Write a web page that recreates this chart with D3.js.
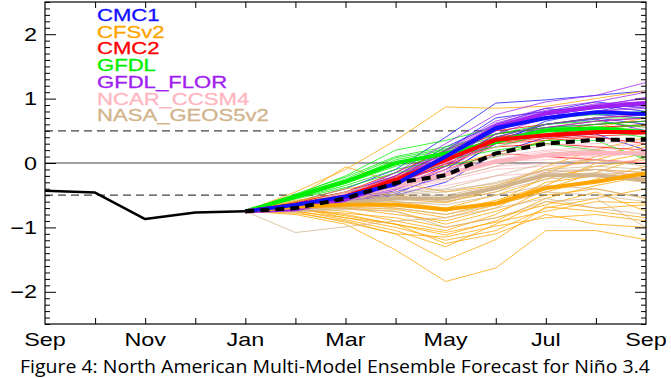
<!DOCTYPE html>
<html>
<head>
<meta charset="utf-8">
<script src="https://cdn.jsdelivr.net/npm/d3@7"></script>
<style>
  body { margin: 0; background: #fff; }
  text { font-family: "Liberation Sans", Arial, sans-serif; }
  text.caption { font-family: "Open Sans", sans-serif; }
</style>
</head>
<body>
<svg id="plume" width="671" height="378"></svg>
<script>
const months = ["Sep", "Oct", "Nov", "Dec", "Jan", "Feb", "Mar", "Apr", "May", "Jun", "Jul", "Aug", "Sep"];
const tickLabels = ["Sep", "Nov", "Jan", "Mar", "May", "Jul", "Sep"];
const yTicks = [-2, -1, 0, 1, 2];
const observed = [-0.43, -0.46, -0.87, -0.77, -0.75];
const startIndex = 4; // Jan

const modelNames = ["CMC1", "CFSv2", "CMC2", "GFDL", "GFDL_FLOR", "NCAR_CCSM4", "NASA_GEOS5v2"];
const modelColors = ["#1010ff", "#ffa500", "#ff0000", "#00ee00", "#a020f0", "#ffb6c1", "#d2b48c"];

// Feb..Sep values for each member
const cmc1Members = [
  [-0.60, -0.40, -0.10, 0.40, 0.93, 0.98, 1.05, 1.12],
  [-0.68, -0.60, -0.45, -0.20, 0.35, 0.60, 0.70, 0.60],
  [-0.66, -0.55, -0.35, 0.05, 0.50, 0.75, 0.85, 0.90],
  [-0.70, -0.62, -0.50, -0.30, 0.15, 0.40, 0.45, 0.20],
  [-0.64, -0.50, -0.25, 0.20, 0.70, 0.80, 0.95, 0.85],
  [-0.67, -0.58, -0.40, -0.05, 0.45, 0.55, 0.60, 0.65],
  [-0.62, -0.45, -0.20, 0.25, 0.60, 0.85, 0.75, 0.70],
  [-0.69, -0.60, -0.48, -0.15, 0.30, 0.65, 0.80, 0.95],
  [-0.65, -0.52, -0.30, 0.10, 0.55, 0.70, 0.90, 0.80],
  [-0.70, -0.65, -0.42, -0.10, 0.40, 0.60, 0.68, 0.50]
];
const cfsMembers = [
  [-0.45, -0.10, 0.35, 0.87, 0.85, 0.88, 1.00, 1.12],
  [-0.55, -0.06, -0.30, -0.45, -0.35, -0.10, 0.05, 0.25],
  [-0.80, -0.95, -1.35, -1.84, -1.63, -1.05, -1.05, -1.19],
  [-0.78, -0.90, -1.10, -1.51, -1.19, -0.68, -0.75, -0.85],
  [-0.70, -0.85, -1.00, -1.20, -1.05, -0.70, -0.55, -0.40],
  [-0.72, -0.80, -0.95, -1.12, -0.90, -0.55, -0.35, -0.20],
  [-0.68, -0.75, -0.90, -1.05, -0.80, -0.40, -0.15, 0.10],
  [-0.65, -0.70, -0.75, -0.95, -0.75, -0.50, -0.40, -0.55],
  [-0.75, -0.85, -0.95, -1.25, -1.10, -0.80, -0.95, -1.00],
  [-0.62, -0.55, -0.60, -0.70, -0.50, -0.25, -0.05, 0.05],
  [-0.70, -0.70, -0.80, -0.90, -0.70, -0.30, -0.20, -0.30],
  [-0.60, -0.45, -0.50, -0.60, -0.45, -0.15, 0.10, 0.30],
  [-0.74, -0.88, -1.05, -1.30, -0.95, -0.60, -0.70, -0.65],
  [-0.66, -0.68, -0.72, -0.85, -0.65, -0.45, -0.25, -0.05],
  [-0.72, -0.78, -0.85, -1.00, -0.85, -0.65, -0.45, -0.75],
  [-0.58, -0.50, -0.55, -0.62, -0.40, -0.05, 0.20, 0.40],
  [-0.76, -0.92, -1.10, -1.15, -0.98, -0.85, -0.80, -0.90],
  [-0.64, -0.62, -0.70, -0.80, -0.62, -0.20, -0.10, -0.15],
  [-0.70, -0.82, -0.95, -1.08, -0.92, -0.75, -0.60, -0.62],
  [-0.62, -0.58, -0.65, -0.75, -0.58, -0.35, 0.00, 0.15],
  [-0.60, -0.40, -0.30, -0.05, 0.15, 0.35, 0.55, 0.70]
];
const cmc2Members = [
  [-0.62, -0.45, -0.15, 0.20, 0.50, 0.60, 0.70, 0.75],
  [-0.68, -0.58, -0.35, -0.10, 0.15, 0.10, 0.05, 0.00],
  [-0.64, -0.50, -0.25, 0.05, 0.40, 0.50, 0.55, 0.60],
  [-0.66, -0.55, -0.30, -0.05, 0.30, 0.35, 0.40, 0.30],
  [-0.63, -0.48, -0.20, 0.15, 0.45, 0.55, 0.65, 0.70],
  [-0.67, -0.56, -0.32, 0.00, 0.25, 0.30, 0.25, 0.20],
  [-0.65, -0.50, -0.22, 0.10, 0.40, 0.45, 0.55, 0.58],
  [-0.66, -0.54, -0.28, 0.02, 0.35, 0.50, 0.60, 0.65],
  [-0.64, -0.52, -0.26, 0.08, 0.38, 0.40, 0.45, 0.50],
  [-0.66, -0.55, -0.30, -0.02, 0.32, 0.38, 0.42, 0.45]
];
const gfdlMembers = [
  [-0.50, -0.20, 0.20, 0.35, 0.55, 0.70, 0.75, 0.80],
  [-0.55, -0.35, -0.10, 0.05, 0.20, 0.30, 0.20, 0.10],
  [-0.52, -0.28, 0.05, 0.20, 0.40, 0.60, 0.65, 0.55],
  [-0.54, -0.32, -0.05, 0.10, 0.25, 0.45, 0.50, 0.40],
  [-0.48, -0.22, 0.10, 0.25, 0.45, 0.55, 0.60, 0.65],
  [-0.53, -0.30, -0.02, 0.12, 0.30, 0.50, 0.55, 0.45],
  [-0.56, -0.38, -0.15, -0.05, 0.10, 0.35, 0.35, 0.05],
  [-0.50, -0.25, 0.08, 0.22, 0.45, 0.60, 0.70, 0.70],
  [-0.52, -0.27, 0.00, 0.15, 0.35, 0.55, 0.55, 0.50],
  [-0.54, -0.31, -0.03, 0.18, 0.32, 0.48, 0.52, 0.60]
];
const florMembers = [
  [-0.70, -0.50, -0.15, 0.30, 0.75, 0.95, 1.05, 1.25],
  [-0.74, -0.62, -0.40, -0.05, 0.40, 0.60, 0.70, 0.75],
  [-0.71, -0.55, -0.25, 0.15, 0.60, 0.80, 0.90, 1.00],
  [-0.73, -0.60, -0.35, 0.00, 0.45, 0.70, 0.80, 0.85],
  [-0.70, -0.52, -0.20, 0.20, 0.65, 0.85, 0.95, 1.10],
  [-0.74, -0.63, -0.42, -0.10, 0.35, 0.55, 0.65, 0.70],
  [-0.72, -0.57, -0.28, 0.12, 0.58, 0.78, 0.92, 0.95],
  [-0.71, -0.54, -0.26, 0.18, 0.62, 0.82, 0.85, 0.90],
  [-0.73, -0.59, -0.32, 0.05, 0.50, 0.75, 0.88, 1.02],
  [-0.72, -0.56, -0.30, 0.08, 0.55, 0.72, 0.80, 0.88]
];
const ncarMembers = [
  [-0.64, -0.45, -0.25, 0.00, 0.25, 0.40, 0.50, 0.55],
  [-0.68, -0.55, -0.45, -0.35, -0.20, -0.15, -0.10, -0.20],
  [-0.65, -0.48, -0.32, -0.12, 0.10, 0.20, 0.25, 0.30],
  [-0.67, -0.52, -0.40, -0.25, -0.05, 0.00, 0.05, 0.00],
  [-0.66, -0.50, -0.35, -0.15, 0.05, 0.15, 0.20, 0.10],
  [-0.65, -0.49, -0.30, -0.10, 0.12, 0.28, 0.30, 0.35],
  [-0.68, -0.53, -0.42, -0.28, -0.10, -0.05, 0.00, 0.05],
  [-0.66, -0.51, -0.38, -0.20, 0.00, 0.10, 0.12, 0.15],
  [-0.67, -0.50, -0.36, -0.18, 0.03, 0.05, 0.10, 0.15],
  [-0.65, -0.48, -0.34, -0.16, 0.05, 0.18, 0.22, 0.20]
];
const nasaMembers = [
  [-1.08, -0.99, -0.90, -0.85, -0.70, -0.55, -0.70, -0.80],
  [-0.65, -0.45, -0.30, -0.25, -0.05, 0.15, 0.20, 0.10],
  [-0.72, -0.65, -0.60, -0.65, -0.50, -0.35, -0.40, -0.55],
  [-0.70, -0.58, -0.50, -0.45, -0.30, -0.10, -0.05, -0.10],
  [-0.75, -0.70, -0.70, -0.80, -0.65, -0.45, -0.50, -0.60],
  [-0.68, -0.55, -0.45, -0.40, -0.20, 0.00, 0.05, -0.05],
  [-0.74, -0.68, -0.62, -0.60, -0.45, -0.25, -0.20, -0.30],
  [-0.71, -0.60, -0.52, -0.50, -0.35, -0.15, -0.10, -0.15],
  [-0.76, -0.72, -0.75, -1.00, -0.85, -0.60, -0.55, -1.00],
  [-0.70, -0.62, -0.55, -0.55, -0.40, -0.20, -0.15, -0.20],
  [-0.69, -0.57, -0.48, -0.42, -0.32, -0.12, -0.10, -0.22]
];

// Feb..Sep ensemble means (thick lines)
const cmc1Mean = [-0.65, -0.52, -0.33, 0.10, 0.54, 0.70, 0.79, 0.76];
const cfsMean = [-0.68, -0.65, -0.65, -0.72, -0.63, -0.39, -0.29, -0.16];
const cmc2Mean = [-0.65, -0.52, -0.26, 0.05, 0.36, 0.43, 0.48, 0.48];
const gfdlMean = [-0.52, -0.29, 0.00, 0.15, 0.33, 0.51, 0.54, 0.48];
const florMean = [-0.72, -0.57, -0.30, 0.10, 0.56, 0.77, 0.87, 0.93];
const ncarMean = [-0.66, -0.50, -0.36, -0.18, 0.02, 0.12, 0.16, 0.15];
const nasaMean = [-0.72, -0.62, -0.55, -0.55, -0.39, -0.19, -0.19, -0.26];
const nmmeMean = [-0.70, -0.55, -0.31, -0.19, 0.15, 0.30, 0.36, 0.36];

const memberSets = [cmc1Members, cfsMembers, cmc2Members, gfdlMembers, florMembers, ncarMembers, nasaMembers];
const meanSets = [cmc1Mean, cfsMean, cmc2Mean, gfdlMean, florMean, ncarMean, nasaMean];

const models = modelNames.map((name, i) => ({
  name: name,
  color: modelColors[i],
  members: memberSets[i],
  mean: meanSets[i]
}));

//* Set chart area
const width = 671;
const height = 378;
const margin = { top: 2, right: 25, bottom: 54, left: 45 };
const innerWidth = width - margin.left - margin.right;
const innerHeight = height - margin.top - margin.bottom;
const stretch = 1.3; // the original lettering is drawn wide

const svg = d3.select("#plume");

const chart = svg.append("g")
  .attr("transform", `translate(${margin.left}, ${margin.top})`);

const x = d3.scaleLinear()
  .domain([0, months.length - 1])
  .range([0, innerWidth]);

const y = d3.scaleLinear()
  .domain([-2.5, 2.5])
  .range([innerHeight, 0]);

chart.append("clipPath")
  .attr("id", "plotArea")
  .append("rect")
  .attr("width", innerWidth)
  .attr("height", innerHeight);

//* Reference lines
chart.append("line")
  .attr("x1", 0).attr("x2", innerWidth)
  .attr("y1", y(0)).attr("y2", y(0))
  .attr("stroke", "#444")
  .attr("stroke-width", 1.2);

[-0.5, 0.5].forEach(v => {
  chart.append("line")
    .attr("x1", 0).attr("x2", innerWidth)
    .attr("y1", y(v)).attr("y2", y(v))
    .attr("stroke", "#444")
    .attr("stroke-width", 1.2)
    .attr("stroke-dasharray", "8,5");
});

//* Forecast lines
const forecastLine = d3.line()
  .x((d, i) => x(startIndex + i))
  .y(d => y(d));

const withStart = vals => [observed[startIndex]].concat(vals);

const plume = chart.append("g").attr("clip-path", "url(#plotArea)");

models.forEach(m => {
  plume.selectAll(null)
    .data(m.members)
    .enter()
    .append("path")
    .attr("d", d => forecastLine(withStart(d)))
    .attr("fill", "none")
    .attr("stroke", m.color)
    .attr("stroke-width", 1)
    .attr("stroke-opacity", 0.75);
});

models.slice().reverse().forEach(m => {
  plume.append("path")
    .attr("d", forecastLine(withStart(m.mean)))
    .attr("fill", "none")
    .attr("stroke", m.color)
    .attr("stroke-width", 4)
    .attr("stroke-linejoin", "round");
});

plume.append("path")
  .attr("d", forecastLine(withStart(nmmeMean)))
  .attr("fill", "none")
  .attr("stroke", "#000")
  .attr("stroke-width", 4)
  .attr("stroke-dasharray", "9,6");

plume.append("path")
  .attr("d", d3.line().x((d, i) => x(i)).y(d => y(d))(observed))
  .attr("fill", "none")
  .attr("stroke", "#000")
  .attr("stroke-width", 2.5)
  .attr("stroke-linejoin", "round");

//* Frame and ticks
chart.append("rect")
  .attr("width", innerWidth)
  .attr("height", innerHeight)
  .attr("fill", "none")
  .attr("stroke", "#000")
  .attr("stroke-width", 1.2);

const minorY = d3.range(-25, 26).map(k => k / 10);
const isMajor = v => Math.abs(v - Math.round(v)) < 1e-6 && Math.abs(v) < 2.5;
const stripAxis = g => {
  g.select(".domain").remove();
  g.selectAll(".tick text").remove();
};

chart.append("g")
  .call(d3.axisRight(y).tickValues(minorY).tickSize(0))
  .call(stripAxis)
  .selectAll(".tick line")
  .attr("x2", d => isMajor(d) ? 11 : 5);

chart.append("g")
  .attr("transform", `translate(${innerWidth}, 0)`)
  .call(d3.axisLeft(y).tickValues(minorY).tickSize(0))
  .call(stripAxis)
  .selectAll(".tick line")
  .attr("x2", d => isMajor(d) ? -11 : -5);

const monthIdx = d3.range(1, months.length - 1);

chart.append("g")
  .attr("transform", `translate(0, ${innerHeight})`)
  .call(d3.axisTop(x).tickValues(monthIdx).tickSize(6))
  .call(stripAxis);

chart.append("g")
  .call(d3.axisBottom(x).tickValues(monthIdx).tickSize(6))
  .call(stripAxis);

//* Tick labels
chart.append("g")
  .selectAll("text")
  .data(yTicks)
  .enter()
  .append("text")
  .attr("transform", d => `translate(-8, ${y(d) + 6.5}) scale(${stretch}, 1)`)
  .attr("text-anchor", "end")
  .attr("font-size", "18px")
  .attr("fill", "#000")
  .text(d => d < 0 ? "\u2212" + Math.abs(d) : d);

chart.append("g")
  .selectAll("text")
  .data(tickLabels)
  .enter()
  .append("text")
  .attr("transform", (d, i) => `translate(${x(i * 2)}, ${innerHeight + 22}) scale(${stretch}, 1)`)
  .attr("text-anchor", "middle")
  .attr("font-size", "18px")
  .attr("fill", "#000")
  .text(d => d);

//* Legend
svg.append("g")
  .selectAll("text")
  .data(models)
  .enter()
  .append("text")
  .attr("transform", (d, i) => `translate(97, ${21 + i * 16.7}) scale(${stretch}, 1)`)
  .attr("font-size", "17px")
  .attr("fill", d => d.color)
  .attr("stroke", d => d.color)
  .attr("stroke-width", 0.3)
  .text(d => d.name);

//* Caption
svg.append("text")
  .attr("class", "caption")
  .attr("x", 20)
  .attr("y", 373)
  .attr("font-size", "19px")
  .attr("textLength", 630)
  .attr("lengthAdjust", "spacingAndGlyphs")
  .attr("fill", "#000")
  .text("Figure 4: North American Multi-Model Ensemble Forecast for Niño 3.4");
</script>
</body>
</html>
